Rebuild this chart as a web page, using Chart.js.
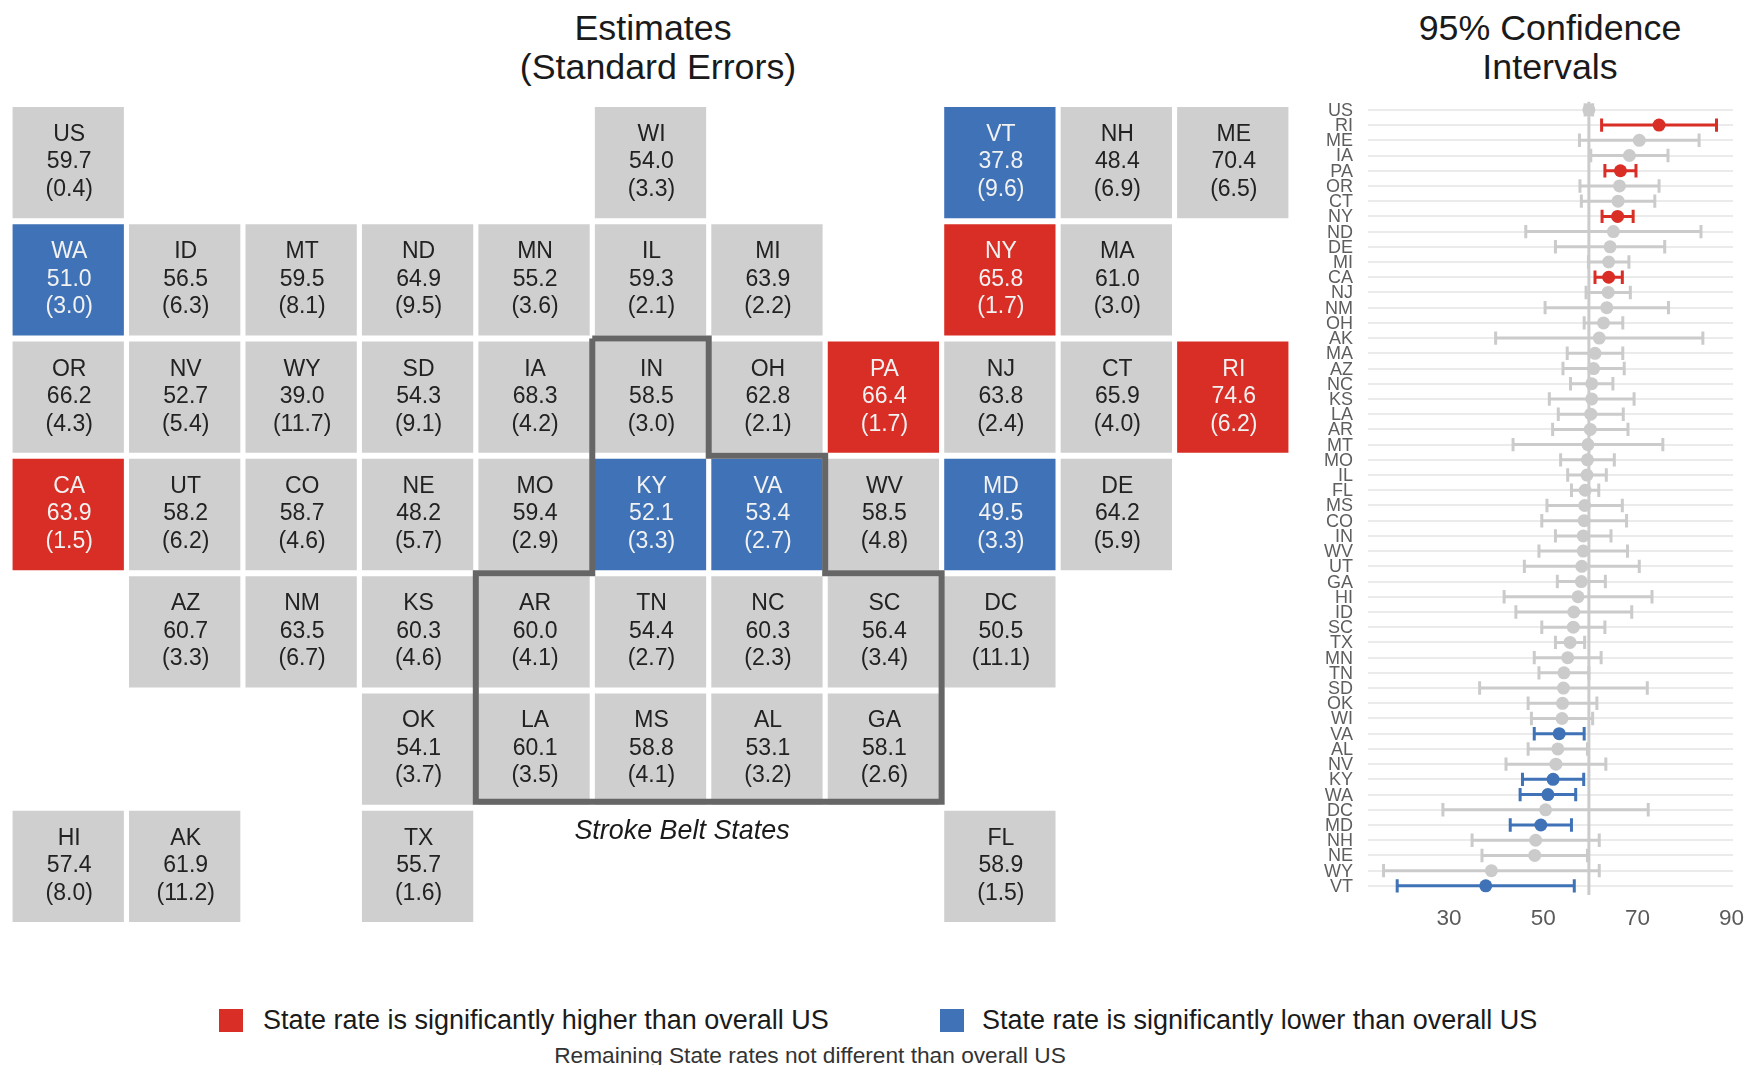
<!DOCTYPE html>
<html><head><meta charset="utf-8">
<script src="https://cdn.jsdelivr.net/npm/chart.js@4"></script>
<style>
html,body{margin:0;padding:0;background:#fff;width:1747px;height:1065px;overflow:hidden;font-family:"Liberation Sans",Arial,sans-serif;}
canvas{position:absolute;display:block;}
.t{position:absolute;white-space:nowrap;transform:translate(-50%,-50%);color:#1a1a1a;line-height:1;}
.l{position:absolute;white-space:nowrap;transform:translateY(-50%);color:#1a1a1a;line-height:1;font-size:27px;}
.s{position:absolute;width:24px;height:23px;}
</style></head><body>
<div class="t" style="left:653px;top:29px;font-size:35.8px">Estimates</div>
<div class="t" style="left:658px;top:68px;font-size:35.8px">(Standard Errors)</div>
<div class="t" style="left:1550px;top:29px;font-size:35.8px">95% Confidence</div>
<div class="t" style="left:1550px;top:68px;font-size:35.8px">Intervals</div>
<canvas id="map" width="1281" height="821" style="left:10px;top:104px"></canvas>
<canvas id="ci" width="447" height="850" style="left:1300px;top:90px"></canvas>
<div class="t" style="left:682px;top:830px;font-size:26.9px;font-style:italic">Stroke Belt States</div>
<div class="s" style="left:219px;top:1009px;background:#D92E26"></div>
<div class="l" style="left:263px;top:1020px">State rate is significantly higher than overall US</div>
<div class="s" style="left:940px;top:1009px;background:#3F72B6"></div>
<div class="l" style="left:982px;top:1020px">State rate is significantly lower than overall US</div>
<div class="t" style="left:810px;top:1055px;font-size:22.7px;color:#333">Remaining State rates not different than overall US</div>
<script>
// Tile map data
const tileStates = ["US","WI","VT","NH","ME","WA","ID","MT","ND","MN","IL","MI","NY","MA","OR","NV","WY","SD","IA","IN","OH","PA","NJ","CT","RI","CA","UT","CO","NE","MO","KY","VA","WV","MD","DE","AZ","NM","KS","AR","TN","NC","SC","DC","OK","LA","MS","AL","GA","HI","AK","TX","FL"];
const tileCols = [0,5,8,9,10, 0,1,2,3,4,5,6,8,9, 0,1,2,3,4,5,6,7,8,9,10, 0,1,2,3,4,5,6,7,8,9, 1,2,3,4,5,6,7,8, 3,4,5,6,7, 0,1,3,8];
const tileRows = [0,0,0,0,0, 1,1,1,1,1,1,1,1,1, 2,2,2,2,2,2,2,2,2,2,2, 3,3,3,3,3,3,3,3,3,3, 4,4,4,4,4,4,4,4, 5,5,5,5,5, 6,6,6,6];
const estimates = [59.7,54.0,37.8,48.4,70.4, 51.0,56.5,59.5,64.9,55.2,59.3,63.9,65.8,61.0, 66.2,52.7,39.0,54.3,68.3,58.5,62.8,66.4,63.8,65.9,74.6, 63.9,58.2,58.7,48.2,59.4,52.1,53.4,58.5,49.5,64.2, 60.7,63.5,60.3,60.0,54.4,60.3,56.4,50.5, 54.1,60.1,58.8,53.1,58.1, 57.4,61.9,55.7,58.9];
const standardErrors = [0.4,3.3,9.6,6.9,6.5, 3.0,6.3,8.1,9.5,3.6,2.1,2.2,1.7,3.0, 4.3,5.4,11.7,9.1,4.2,3.0,2.1,1.7,2.4,4.0,6.2, 1.5,6.2,4.6,5.7,2.9,3.3,2.7,4.8,3.3,5.9, 3.3,6.7,4.6,4.1,2.7,2.3,3.4,11.1, 3.7,3.5,4.1,3.2,2.6, 8.0,11.2,1.6,1.5];
const higherStates = ["CA","NY","PA","RI"];
const lowerStates = ["WA","VT","KY","VA","MD"];
const beltOutlineX = [4.5,5.5,5.5,6.5,6.5,7.5,7.5,3.5,3.5,4.5,4.5];
const beltOutlineY = [1.5,1.5,2.5,2.5,3.5,3.5,5.45,5.45,3.5,3.5,1.5];

// Confidence interval data (ordered as plotted, top to bottom)
const ciStates = ["US","RI","ME","IA","PA","OR","CT","NY","ND","DE","MI","CA","NJ","NM","OH","AK","MA","AZ","NC","KS","LA","AR","MT","MO","IL","FL","MS","CO","IN","WV","UT","GA","HI","ID","SC","TX","MN","TN","SD","OK","WI","VA","AL","NV","KY","WA","DC","MD","NH","NE","WY","VT"];
const ciLower = [58.9,62.4,57.7,60.1,63.1,57.8,58.1,62.5,46.3,52.6,59.6,61.0,59.1,50.4,58.7,39.9,55.1,54.2,55.8,51.3,53.2,52.0,43.6,53.7,55.2,56.0,50.8,49.7,52.6,49.1,46.0,53.0,41.7,44.2,49.7,52.6,48.1,49.1,36.5,46.8,47.5,48.1,46.8,42.1,45.6,45.1,28.7,43.0,34.9,37.0,16.1,19.0];
const ciUpper = [60.5,86.8,83.1,76.5,69.7,74.6,73.7,69.1,83.5,75.8,68.2,66.8,68.5,76.6,66.9,83.9,66.9,67.2,64.8,69.3,67.0,68.0,75.4,65.1,63.4,61.8,66.8,67.7,64.4,67.9,70.4,63.2,73.1,68.8,63.1,58.8,62.3,59.7,72.1,61.4,60.5,58.7,59.4,63.3,58.6,56.9,72.3,56.0,61.9,59.4,61.9,56.6];
const xTickValues = [30,50,70,90];
const usEstimate = 59.7;

const RED="#D92E26", BLUE="#3F72B6", GRAY="#CFCFCF", CIGRAY="#CBCBCB", BELT="#666666";
const FONT='"Liberation Sans",Arial,sans-serif';
const tint = s => higherStates.includes(s) ? RED : lowerStates.includes(s) ? BLUE : null;

const tileLabels = {
  id:"tileLabels",
  afterDatasetsDraw(chart){
    const {ctx,scales:{x,y}} = chart;
    ctx.save();
    ctx.font = '23px '+FONT;
    ctx.textAlign='center'; ctx.textBaseline='middle';
    tileStates.forEach((s,i)=>{
      const cx=x.getPixelForValue(tileCols[i])+1, cy=y.getPixelForValue(tileRows[i]);
      ctx.fillStyle = tint(s) ? "#F2F2F2" : "#222222";
      ctx.fillText(s,cx,cy-28);
      ctx.fillText(estimates[i].toFixed(1),cx,cy-0.5);
      ctx.fillText("("+standardErrors[i].toFixed(1)+")",cx,cy+27);
    });
    ctx.restore();
  }
};

new Chart(document.getElementById("map"),{
  type:"scatter",
  data:{datasets:[
    {label:"States",
     data:tileStates.map((s,i)=>({x:tileCols[i],y:tileRows[i]})),
     pointStyle:"rect",pointRadius:78.7,pointBorderWidth:0,
     backgroundColor:tileStates.map(s=>tint(s)||GRAY),order:2},
    {label:"Stroke Belt States",
     data:beltOutlineX.map((v,i)=>({x:v,y:beltOutlineY[i]})),
     showLine:true,pointRadius:0,borderColor:BELT,borderWidth:6,borderJoinStyle:"miter",order:1}
  ]},
  options:{responsive:false,animation:false,
    layout:{autoPadding:false,padding:0},
    plugins:{legend:{display:false},tooltip:{enabled:false}},
    scales:{
      x:{type:"linear",display:false,min:-0.5,max:10.5},
      y:{type:"linear",display:false,min:-0.5,max:6.5,reverse:true}
    }},
  plugins:[tileLabels]
});

const estimateOf = s => estimates[tileStates.indexOf(s)];
const pickGroup = test => ciStates.map((s,i)=>({s,i})).filter(o=>test(o.s));
const intervalData = grp => grp.flatMap(o=>[{x:ciLower[o.i],y:o.i},{x:ciUpper[o.i],y:o.i},{x:NaN,y:NaN}]);
const dotData = grp => grp.map(o=>({x:estimateOf(o.s),y:o.i}));
const groups = [
  {color:CIGRAY,grp:pickGroup(s=>!tint(s))},
  {color:RED,grp:pickGroup(s=>tint(s)===RED)},
  {color:BLUE,grp:pickGroup(s=>tint(s)===BLUE)}
];
const datasets = [{label:"Overall US",data:[{x:usEstimate,y:-0.55},{x:usEstimate,y:51.6}],showLine:true,pointRadius:0,borderColor:CIGRAY,borderWidth:3}];
groups.forEach(g=>{
  datasets.push({label:"CI",data:intervalData(g.grp),showLine:true,spanGaps:false,borderColor:g.color,borderWidth:3,
    pointStyle:"line",pointRotation:90,pointRadius:6.7,pointBorderWidth:3,pointBorderColor:g.color,pointBackgroundColor:g.color});
  datasets.push({label:"Estimate",data:dotData(g.grp),pointStyle:"circle",pointRadius:6.5,pointBorderWidth:0,backgroundColor:g.color});
});
const noOverflow = a => { a.paddingTop=0; a.paddingBottom=0; a.paddingLeft=0; a.paddingRight=0; };

new Chart(document.getElementById("ci"),{
  type:"scatter",
  data:{datasets},
  options:{responsive:false,animation:false,
    layout:{autoPadding:false,padding:{top:11.5,right:14,left:0,bottom:0}},
    plugins:{legend:{display:false},tooltip:{enabled:false}},
    scales:{
      x:{type:"linear",min:12.8,max:90.3,
        afterBuildTicks:a=>{a.ticks=xTickValues.map(v=>({value:v}));},
        afterFit:a=>{a.height=45;noOverflow(a);},
        grid:{display:false,drawTicks:false},border:{display:false},
        ticks:{autoSkip:false,maxRotation:0,padding:10,color:"#5A5A5A",font:{family:FONT,size:22.5}}},
      y:{type:"linear",min:-0.55,max:51.6,reverse:true,
        afterBuildTicks:a=>{a.ticks=ciStates.map((_,i)=>({value:i}));},
        afterFit:a=>{a.width=68;noOverflow(a);},
        grid:{color:"#EBEBEB",lineWidth:2,drawTicks:false},border:{display:false},
        ticks:{autoSkip:false,padding:15,labelOffset:1,color:"#5E5E5E",font:{family:FONT,size:18},callback:v=>ciStates[v]}}
    }}
});
</script>
</body></html>
